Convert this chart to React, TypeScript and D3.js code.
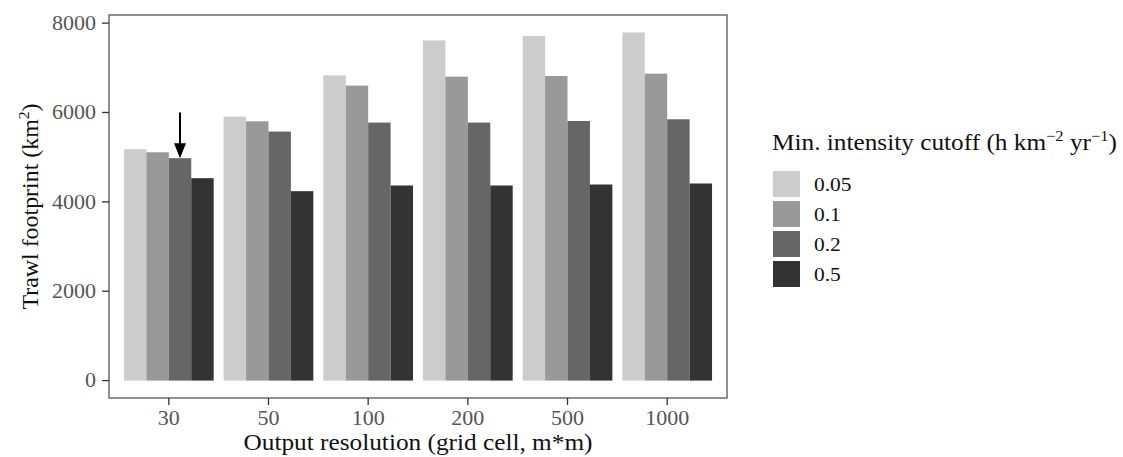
import React from "react";
import * as d3 from "d3";

const categories = ["30", "50", "100", "200", "500", "1000"];
const cutoffs = ["0.05", "0.1", "0.2", "0.5"];
const series005 = [5178, 5908, 6831, 7613, 7710, 7792];
const series01 = [5110, 5803, 6601, 6802, 6817, 6868];
const series02 = [4977, 5573, 5774, 5774, 5810, 5848];
const series05 = [4530, 4239, 4366, 4366, 4388, 4411];
const seriesValues = [series005, series01, series02, series05];
const fillColors = ["#cccccc", "#999999", "#666666", "#333333"];
const yTicks = [0, 2000, 4000, 6000, 8000];
const arrowFrom = 6000;
const arrowCategory = "30";
const arrowCutoff = "0.2";

const W = 1123;
const H = 457;
const panel = { left: 109, right: 727, top: 15, bottom: 398 };
const FONT = "'Liberation Serif', serif";
const SX = 1.1;

function T({ x, y, sx = SX, rotate = 0, children, ...rest }: any) {
  return (
    <g transform={`translate(${x},${y}) rotate(${rotate}) scale(${sx},1)`}>
      <text x={0} y={0} {...rest}>
        {children}
      </text>
    </g>
  );
}

export default function App() {
  const maxV = d3.max(seriesValues.flat()) as number;
  const expand = maxV * 0.05;
  const y = d3
    .scaleLinear()
    .domain([-expand, maxV + expand])
    .range([panel.bottom, panel.top]);
  const x = d3
    .scalePoint()
    .domain(categories)
    .range([panel.left, panel.right])
    .padding(0.6);
  const groupW = x.step() * 0.9;
  const xInner = d3.scaleBand().domain(cutoffs).range([-groupW / 2, groupW / 2]);

  const ai = categories.indexOf(arrowCategory);
  const aj = cutoffs.indexOf(arrowCutoff);
  const arrowX = (x(arrowCategory) as number) + (xInner(arrowCutoff) as number) + xInner.bandwidth() / 2;
  const arrowY0 = y(arrowFrom);
  const arrowY1 = y(seriesValues[aj][ai]);

  const legendX = 773;
  const legendY = 171;
  const keyH = 26;
  const keyPitch = 30;

  return (
    <svg width={W} height={H} style={{ position: "absolute", left: 0, top: 0 }} fontFamily={FONT}>
      <rect x={0} y={0} width={W} height={H} fill="#fff" />
      {/* bars */}
      {seriesValues.map((vals, j) =>
        vals.map((v, i) => (
          <rect
            key={`${i}-${j}`}
            x={(x(categories[i]) as number) + (xInner(cutoffs[j]) as number)}
            y={y(v)}
            width={xInner.bandwidth()}
            height={y(0) - y(v)}
            fill={fillColors[j]}
          />
        ))
      )}
      {/* arrow */}
      <line x1={arrowX} x2={arrowX} y1={arrowY0} y2={arrowY1 - 12} stroke="#000" strokeWidth={2} />
      <path
        d={`M${arrowX - 6},${arrowY1 - 15} L${arrowX + 6},${arrowY1 - 15} L${arrowX},${arrowY1} Z`}
        fill="#000"
      />
      {/* panel border */}
      <rect
        x={panel.left}
        y={panel.top}
        width={panel.right - panel.left}
        height={panel.bottom - panel.top}
        fill="none"
        stroke="#555"
        strokeWidth={1.3}
      />
      {/* y axis */}
      {yTicks.map((t) => (
        <g key={t}>
          <line x1={panel.left - 7} x2={panel.left} y1={y(t)} y2={y(t)} stroke="#333" strokeWidth={1.3} />
          <T x={panel.left - 13} y={y(t)} textAnchor="end" dominantBaseline="central" fontSize={20} fill="#555">
            {t}
          </T>
        </g>
      ))}
      {/* x axis */}
      {categories.map((c) => {
        const cx = x(c) as number;
        return (
          <g key={c}>
            <line x1={cx} x2={cx} y1={panel.bottom} y2={panel.bottom + 7} stroke="#333" strokeWidth={1.3} />
            <T x={cx} y={425} textAnchor="middle" fontSize={20} fill="#555">
              {c}
            </T>
          </g>
        );
      })}
      <T x={(panel.left + panel.right) / 2} y={450} textAnchor="middle" fontSize={23} fill="#111">
        Output resolution (grid cell, m*m)
      </T>
      <T
        x={38}
        y={(panel.top + panel.bottom) / 2}
        rotate={-90}
        sx={1.04}
        textAnchor="middle"
        fontSize={23}
        fill="#111"
      >
        Trawl footprint (km
        <tspan fontSize={15} dy={-9}>2</tspan>
        <tspan dy={9}>)</tspan>
      </T>
      {/* legend */}
      <T x={772} y={150} fontSize={23} fill="#111">
        Min. intensity cutoff (h km
        <tspan fontSize={15} dy={-9}>−2</tspan>
        <tspan dy={9}> yr</tspan>
        <tspan fontSize={15} dy={-9}>−1</tspan>
        <tspan dy={9}>)</tspan>
      </T>
      {cutoffs.map((c, j) => (
        <g key={c}>
          <rect x={legendX} y={legendY + j * keyPitch} width={27} height={keyH} fill={fillColors[j]} />
          <T x={814} y={legendY + j * keyPitch + keyH / 2} dominantBaseline="central" fontSize={19.5} fill="#111">
            {c}
          </T>
        </g>
      ))}
    </svg>
  );
}
